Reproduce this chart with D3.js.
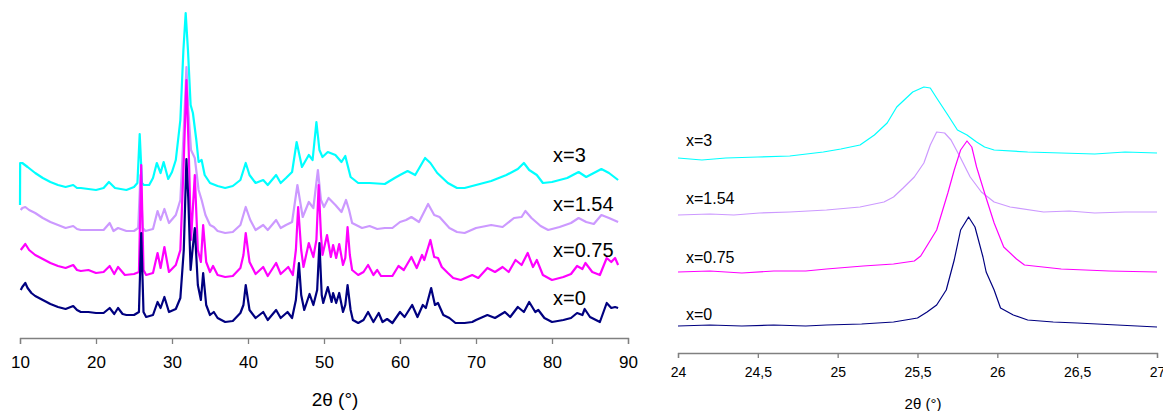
<!DOCTYPE html>
<html><head><meta charset="utf-8">
<script src="https://cdn.jsdelivr.net/npm/d3@7/dist/d3.min.js"></script>
<style>body{margin:0;background:#fff}svg{display:block}text{font-family:"Liberation Sans",Arial,sans-serif;fill:#000}</style>
</head><body><svg id="c" width="1163" height="411"></svg>
<script>
// ---- Left panel: full patterns (2θ, offset intensity, a.u.) ----
const fullTicks = [10,20,30,40,50,60,70,80,90];
const seriesLabels = ["x=3","x=1.54","x=0.75","x=0"];
const seriesColors = ["#00FFFF","#CC99FF","#FF00FF","#000080"];

const full_x3 = [[10.0,133],[10.02,175],[10.3,175],[11,171],[12,165],[13,160],[14,156],[15,153],[16,151],[17,153],[17.5,150],[18,150],[20,148],[21,150],[21.7,156],[22.5,150],[24,148],[25,151],[25.45,155],[25.75,204],[26.05,155],[26.3,153],[27,153],[27.5,160],[28,175],[28.5,165],[28.9,176],[29.5,159],[30,166],[30.5,178],[31.1,218],[31.5,288],[31.8,325],[32.1,288],[32.45,233],[32.75,225],[33.2,198],[33.5,176],[33.9,178],[34.3,163],[35,155],[36,152],[37,150],[38,152],[39,158],[39.7,175],[40.2,163],[41,155],[42,158],[42.6,153],[43.7,163],[44.3,155],[45,160],[45.8,166],[46.4,196],[47.1,171],[48,183],[48.5,178],[49,216],[49.4,188],[49.8,181],[50.5,186],[51.5,183],[52.3,176],[52.8,182],[53.5,161],[54.5,155],[56,155],[58,154],[59.3,160],[60,163],[61,167],[62,163],[63.3,180],[64,175],[64.9,165],[66.3,155],[67.5,150],[68.5,150],[70,153],[72,157],[74,163],[75.5,169],[76.3,175],[77,168],[78,163],[78.8,155],[80,156],[82,160],[83.5,166],[84.5,161],[86.5,169],[87.5,165],[88.7,158]];

const full_x154 = [[10.1,128],[10.3,130],[10.7,131],[11.2,128],[12,125],[13,120],[14,116],[15,113],[16,110],[17,112],[17.5,109],[18,108],[20,108],[21,108],[21.8,115],[22.3,107],[22.9,110],[24,107],[25,107],[25.55,110],[25.85,163],[26.15,110],[26.5,107],[27.5,109],[28.1,127],[28.5,118],[29,129],[29.6,115],[30.5,123],[31.1,138],[31.55,208],[31.9,271],[32.15,228],[32.5,188],[33,180],[33.5,148],[33.9,138],[34.4,123],[35,113],[35.5,111],[36,107],[37,105],[38,106],[39,113],[39.7,131],[40.3,118],[41,108],[42,113],[42.6,108],[43.7,118],[44.3,110],[45,113],[45.8,116],[46.5,153],[47.2,121],[48,136],[48.6,130],[49.2,168],[49.6,138],[50,131],[50.6,140],[51.5,133],[52.3,126],[52.9,138],[53.3,128],[53.7,115],[55,110],[56,112],[57,109],[58,110],[59,110],[60,116],[60.8,118],[61.5,121],[62.5,116],[63.7,134],[64.5,123],[65.2,121],[66.5,110],[67.5,106],[68.5,105],[70,110],[72,113],[73.5,111],[75,120],[76,121],[76.5,127],[77.3,120],[78.5,112],[79.5,108],[81,111],[82.5,115],[83.5,120],[84.5,116],[85.5,114],[86.5,123],[87.5,120],[88.7,116]];

const full_x075 = [[10.1,88],[10.3,90],[10.7,94],[11.2,88],[12,83],[13,79],[14,75],[15,72],[16,70],[17,73],[17.5,68],[18,67],[19,68],[20,65],[21,66],[21.8,72],[22.4,64],[22.9,71],[23.8,63],[25,64],[25.65,66],[25.95,173],[26.25,68],[26.6,63],[27.5,65],[28.1,85],[28.5,70],[29,91],[29.6,66],[30.5,73],[31.1,88],[31.55,178],[31.9,258],[32.2,188],[32.5,98],[33,163],[33.4,88],[33.8,76],[34.1,113],[34.5,76],[35,66],[35.4,72],[36,63],[37,61],[38,62],[39,70],[39.4,83],[39.7,105],[40.2,76],[41,64],[42,71],[42.6,62],[43.7,75],[44.3,64],[45.3,71],[45.9,63],[46.3,88],[46.6,131],[47,88],[47.3,71],[48,95],[48.6,81],[49,98],[49.3,153],[49.6,103],[49.8,83],[50.4,103],[50.9,81],[51.2,93],[51.6,80],[52,94],[52.5,73],[52.8,80],[53.1,111],[53.4,83],[53.7,68],[54.5,63],[55.2,66],[55.8,73],[56.5,63],[57,68],[57.5,62],[59,62],[59.8,72],[60.5,68],[61.5,81],[62.2,70],[62.9,83],[63.2,78],[64,98],[64.5,81],[65,80],[65.5,71],[66.3,65],[67,60],[68,58],[69.5,63],[70.3,60],[71.5,70],[72.5,66],[73.5,71],[74.3,66],[75.2,78],[76,73],[76.8,85],[77.5,71],[78,78],[78.8,63],[80,58],[81.5,61],[82.5,64],[83.3,72],[84,69],[84.4,75],[85.3,66],[86.3,63],[87.2,80],[87.8,76],[88.3,80],[88.7,73]];

const full_x0 = [[10.1,48],[10.3,51],[10.7,55],[11,50],[11.5,45],[12,42],[13,38],[14,34],[15,31],[16,29],[17,32],[17.5,28],[18,26],[19,26],[20,25],[21,25],[21.8,30],[22.4,24],[22.9,30],[23.5,24],[24,23],[25,23],[25.65,26],[25.95,105],[26.25,26],[26.6,21],[27.5,23],[28.1,36],[28.5,30],[29,41],[29.6,26],[30.5,29],[31.1,40],[31.55,88],[31.9,179],[32.15,138],[32.45,68],[32.7,88],[33,110],[33.4,53],[33.8,38],[34.1,65],[34.5,33],[35,23],[35.5,26],[36,20],[37,16],[38,17],[39,25],[39.4,33],[39.7,53],[40.2,28],[41,20],[42,26],[42.6,18],[43.7,28],[44.3,20],[45.2,26],[45.8,20],[46.3,38],[46.7,75],[47,43],[47.4,28],[48.1,44],[48.6,33],[49.1,48],[49.4,95],[49.7,43],[49.9,35],[50.5,51],[51,36],[51.2,45],[51.6,35],[52,45],[52.5,26],[52.8,33],[53.1,53],[53.5,28],[53.8,18],[54.5,15],[55.2,18],[55.8,26],[56.5,16],[57.2,25],[57.7,16],[58.3,19],[59,15],[60,26],[60.6,21],[61.6,33],[62.3,21],[63,33],[63.4,30],[64.1,50],[64.6,33],[65,35],[65.7,23],[66.5,20],[67.3,15],[68.5,15],[69.5,16],[70,18],[71.5,23],[72.5,20],[73.8,26],[74.5,21],[75.5,31],[76.3,26],[77,36],[77.8,26],[78.2,28],[79,20],[80,16],[81.5,18],[82.5,20],[83.3,25],[84,23],[84.3,29],[85,21],[86.3,16],[87.2,35],[87.8,30],[88.3,31],[88.7,30]];

// ---- Right panel: zoom 24–27° ----
const zoomTicks = [24,24.5,25,25.5,26,26.5,27];
const zoom_x3 = [[24,195],[24.15,193],[24.3,195],[24.5,196],[24.7,197],[24.91,201],[25.02,204],[25.14,208],[25.23,218],[25.31,230],[25.37,246],[25.47,261],[25.54,266],[25.58,265],[25.62,255],[25.69,238],[25.75,223],[25.81,218],[25.87,211],[25.92,206],[25.98,203],[26.19,201],[26.4,200],[26.61,199],[26.8,201],[27,200]];
const zoom_x154 = [[24,138],[24.2,139],[24.35,138],[24.51,140],[24.7,141],[24.93,143],[25.14,146],[25.29,151],[25.35,156],[25.41,165],[25.48,176],[25.54,190],[25.58,208],[25.62,221],[25.67,220],[25.71,213],[25.77,195],[25.83,176],[25.9,161],[25.98,151],[26.08,146],[26.29,141],[26.45,142],[26.61,140],[26.8,141],[27,141]];
const zoom_x075 = [[24,81],[24.2,82],[24.4,80],[24.6,82],[24.8,82],[24.93,84],[25.16,87],[25.35,89],[25.48,92],[25.52,97],[25.62,123],[25.69,160],[25.73,183],[25.77,203],[25.81,212],[25.84,206],[25.87,186],[25.92,160],[25.98,130],[26.04,106],[26.12,94],[26.17,88],[26.4,84],[26.7,82],[27,81]];
const zoom_x0 = [[24,27],[24.2,28],[24.4,27],[24.6,28],[24.8,27],[24.93,28],[25.15,29],[25.35,31],[25.5,35],[25.56,41],[25.62,48],[25.68,63],[25.73,93],[25.77,123],[25.82,136],[25.86,126],[25.91,96],[25.93,81],[25.98,63],[26.02,45],[26.1,38],[26.19,33],[26.35,31],[26.5,30],[26.75,28],[27,26]];

const svg = d3.select("#c");
svg.append("rect").attr("width",1163).attr("height",411).attr("fill","#fff");

// left scales
const xL = d3.scaleLinear().domain([10,90]).range([20,628]);
const yL = d3.scaleLinear().domain([0,338]).range([338,0]);
const lineL = d3.line().x(d=>xL(d[0])).y(d=>yL(d[1]));
const leftData = [full_x3, full_x154, full_x075, full_x0];
leftData.forEach((s,i)=>{
  svg.append("path").datum(s).attr("d",lineL).attr("fill","none")
    .attr("stroke",seriesColors[i]).attr("stroke-width",2.2).attr("stroke-linejoin","round");
});
const axL = svg.append("g").attr("transform","translate(0,338)")
  .call(d3.axisBottom(xL).tickValues(fullTicks).tickSize(6).tickPadding(12).tickFormat(d3.format("d")));
axL.select(".domain").attr("stroke","#808080").attr("stroke-width",1.3);
axL.selectAll(".tick line").attr("stroke","#808080").attr("stroke-width",1.3);
axL.selectAll(".tick text").attr("font-size",17).attr("font-family","Liberation Sans, Arial, sans-serif").attr("fill","#000");
svg.append("text").attr("x",335).attr("y",406).attr("text-anchor","middle").attr("font-size",19).text("2θ (°)");
const labYL = [162,211,257,305];
seriesLabels.forEach((t,i)=>svg.append("text").attr("x",553).attr("y",labYL[i]).attr("font-size",20).text(t));

// right scales
const xR = d3.scaleLinear().domain([24,27]).range([678,1157]);
const yR = d3.scaleLinear().domain([0,353]).range([353,0]);
const lineR = d3.line().x(d=>xR(d[0])).y(d=>yR(d[1]));
const rightData = [zoom_x3, zoom_x154, zoom_x075, zoom_x0];
rightData.forEach((s,i)=>{
  svg.append("path").datum(s).attr("d",lineR).attr("fill","none")
    .attr("stroke",seriesColors[i]).attr("stroke-width",1.2).attr("stroke-linejoin","round");
});
const axR = svg.append("g").attr("transform","translate(0,353)")
  .call(d3.axisBottom(xR).tickValues(zoomTicks).tickSize(5).tickPadding(9)
    .tickFormat(d=>String(d).replace(".",",")));
axR.select(".domain").attr("stroke","#808080").attr("stroke-width",1.3);
axR.selectAll(".tick line").attr("stroke","#808080").attr("stroke-width",1.3);
axR.selectAll(".tick text").attr("font-size",14).attr("font-family","Liberation Sans, Arial, sans-serif").attr("fill","#000");
svg.append("text").attr("x",923).attr("y",409).attr("text-anchor","middle").attr("font-size",15).text("2θ (°)");
const labYR = [146,204,263,320];
seriesLabels.forEach((t,i)=>svg.append("text").attr("x",686).attr("y",labYR[i]).attr("font-size",16).text(t));
</script></body></html>
